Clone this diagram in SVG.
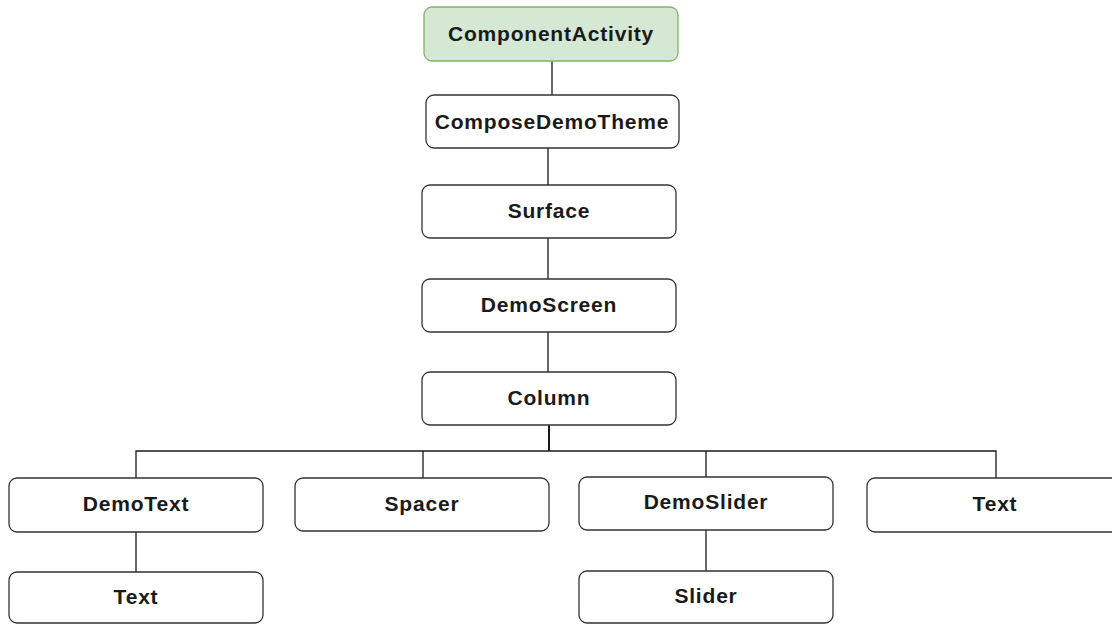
<svg xmlns="http://www.w3.org/2000/svg" width="1112" height="624" viewBox="0 0 1112 624">
<style>
.box{fill:#ffffff;stroke:#333333;stroke-width:1.3}
.root{fill:#d5e8d4;stroke:#82b366;stroke-width:1.3}
.lbl{font-family:"Liberation Sans",Arial,sans-serif;font-weight:bold;font-size:21px;letter-spacing:0.8px;fill:#1a1a1a;text-anchor:middle;dominant-baseline:central}
.c{fill:none;stroke:#1a1a1a;stroke-width:1.3}
</style>
<rect width="1112" height="624" fill="#ffffff"/>
<g id="connectors">
<path class="c" d="M552 61V95"/>
<path class="c" d="M548 148V185"/>
<path class="c" d="M548 238V279"/>
<path class="c" d="M548 332V372"/>
<path class="c" d="M549 425V451" style="stroke-width:2"/>
<path class="c" d="M136 478V451H996V478"/>
<path class="c" d="M423 451V478"/>
<path class="c" d="M706 451V477"/>
<path class="c" d="M136 532V572"/>
<path class="c" d="M706 530V571"/>
</g>
<g id="componentActivity"><rect class="root" x="424" y="7" width="254" height="54" rx="8"/><text class="lbl" x="551" y="33">ComponentActivity</text></g>
<g id="composeDemoTheme"><rect class="box" x="426" y="95" width="253" height="53" rx="8"/><text class="lbl" x="552" y="121">ComposeDemoTheme</text></g>
<g id="surface"><rect class="box" x="422" y="185" width="254" height="53" rx="8"/><text class="lbl" x="549" y="210.5">Surface</text></g>
<g id="demoScreen"><rect class="box" x="422" y="279" width="254" height="53" rx="8"/><text class="lbl" x="549" y="304.5">DemoScreen</text></g>
<g id="column"><rect class="box" x="422" y="372" width="254" height="53" rx="8"/><text class="lbl" x="549" y="397">Column</text></g>
<g id="demoText"><rect class="box" x="9" y="478" width="254" height="54" rx="8"/><text class="lbl" x="136" y="503">DemoText</text></g>
<g id="spacer"><rect class="box" x="295" y="478" width="254" height="53" rx="8"/><text class="lbl" x="422" y="503">Spacer</text></g>
<g id="demoSlider"><rect class="box" x="579" y="477" width="254" height="53" rx="8"/><text class="lbl" x="706" y="501">DemoSlider</text></g>
<g id="text2"><rect class="box" x="867" y="478" width="254" height="54" rx="8"/><text class="lbl" x="995" y="503">Text</text></g>
<g id="text1"><rect class="box" x="9" y="572" width="254" height="51" rx="8"/><text class="lbl" x="136" y="596">Text</text></g>
<g id="slider"><rect class="box" x="579" y="571" width="254" height="52" rx="8"/><text class="lbl" x="706" y="595">Slider</text></g>
</svg>
